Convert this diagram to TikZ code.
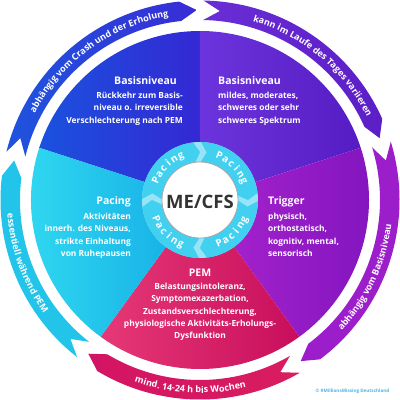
\documentclass[tikz,border=0pt]{standalone}
\usepackage{fontspec}
\setmainfont{Open Sans}
\usetikzlibrary{decorations.text}
\definecolor{cBlueA}{RGB}{26,82,222}
\definecolor{cBlueB}{RGB}{52,40,212}
\definecolor{cPurA}{RGB}{108,52,220}
\definecolor{cPurB}{RGB}{86,28,196}
\definecolor{cTrgA}{RGB}{170,36,206}
\definecolor{cTrgB}{RGB}{128,20,190}
\definecolor{cPemA}{RGB}{230,56,118}
\definecolor{cPemB}{RGB}{200,14,92}
\definecolor{cPacA}{RGB}{50,218,240}
\definecolor{cPacB}{RGB}{18,170,230}
\definecolor{cBandCyan}{RGB}{34,196,234}
\definecolor{cBandBlueA}{RGB}{30,84,222}
\definecolor{cBandBlueB}{RGB}{56,44,214}
\definecolor{cBandPurA}{RGB}{106,46,214}
\definecolor{cBandPurB}{RGB}{92,30,198}
\definecolor{cBandTrg}{RGB}{156,30,202}
\definecolor{cBandPemA}{RGB}{210,20,100}
\definecolor{cBandPemB}{RGB}{218,28,96}
\definecolor{cRing}{RGB}{66,208,240}
\definecolor{cRingLine}{RGB}{150,228,246}
\definecolor{cCore}{RGB}{51,51,51}
\definecolor{cCopy}{RGB}{80,176,228}
\def\bRo{199.5pt}
\def\bRm{190pt}
\def\bRi{180pt}
\def\bHd{5}
\def\rRo{58pt}
\def\rRm{48pt}
\def\rRi{38pt}
\def\rHd{7}
\newcommand{\bandarrow}[3]{%
  \path[#1] (#2:\bRo) arc[start angle=#2, end angle={#3+\bHd}, radius=\bRo]
    -- (#3:\bRm) -- ({#3+\bHd}:\bRi) arc[start angle={#3+\bHd}, end angle=#2, radius=\bRi]
    -- ({#2-\bHd}:\bRm) -- cycle;}
\newcommand{\ringarrow}[3]{%
  \path[#1] (#2:\rRo) arc[start angle=#2, end angle={#3+\rHd}, radius=\rRo]
    -- (#3:\rRm) -- ({#3+\rHd}:\rRi) arc[start angle={#3+\rHd}, end angle=#2, radius=\rRi]
    -- ({#2-\rHd}:\rRm) -- cycle;}
\tikzset{
  sectortitle/.style={text=white, font=\bfseries\fontsize{10.5}{12}\selectfont, inner sep=0pt},
  sectorbody/.style={text=white, font=\bfseries\fontsize{8.4}{12.3}\selectfont, inner sep=0pt},
  bandtext/.style={decorate, decoration={text along path, text align=center, text color=white,
     text={|\bfseries\fontsize{9}{9}\selectfont|#1}}},
  ringletter/.style={text=white, font=\bfseries\fontsize{10}{10}\selectfont, inner sep=0pt, anchor=base},
}
\begin{document}
\begin{tikzpicture}[x=1pt,y=1pt]
\useasboundingbox (-200,-200) rectangle (200,200);
% sectors
\path[left color=cBlueA, right color=cBlueB] (0,0) -- (90:169pt) arc[start angle=90, end angle=162, radius=169pt] -- cycle;
\path[left color=cPurA, right color=cPurB] (0,0) -- (18:169pt) arc[start angle=18, end angle=90, radius=169pt] -- cycle;
\path[left color=cTrgA, right color=cTrgB] (0,0) -- (-54:169pt) arc[start angle=-54, end angle=18, radius=169pt] -- cycle;
\path[left color=cPemA, right color=cPemB] (0,0) -- (-126:169pt) arc[start angle=-126, end angle=-54, radius=169pt] -- cycle;
\path[left color=cPacA, right color=cPacB] (0,0) -- (162:169pt) arc[start angle=162, end angle=234, radius=169pt] -- cycle;
% outer band arrows
\bandarrow{fill=cBandCyan}{232}{168}
\bandarrow{left color=cBandBlueA, right color=cBandBlueB}{166}{91}
\bandarrow{left color=cBandPurA, right color=cBandPurB}{89}{19}
\bandarrow{fill=cBandTrg}{17}{-58}
\bandarrow{left color=cBandPemA, right color=cBandPemB}{-60}{-126}
% band texts
\path[bandtext={abhängig vom Crash und der Erholung}] (160:186.5pt) arc[start angle=160, end angle=92, radius=186.5pt];
\path[bandtext={kann im Laufe des Tages variieren}] (84:186.5pt) arc[start angle=84, end angle=16, radius=186.5pt];
\path[bandtext={abhängig vom Basisniveau}] (-60:193pt) arc[start angle=-60, end angle=10, radius=193pt];
\path[bandtext={mind. 14-24 h bis Wochen}] (-128:193pt) arc[start angle=-128, end angle=-58, radius=193pt];
\path[bandtext={essentiell während PEM}] (165:193pt) arc[start angle=165, end angle=235, radius=193pt];
% inner ring
\fill[cRingLine] (0,0) circle[radius=\rRo];
\ringarrow{fill=cRing}{179}{90}
\ringarrow{fill=cRing}{89}{0}
\ringarrow{fill=cRing}{-1}{-90}
\ringarrow{fill=cRing}{-91}{-180}
\fill[white] (0,0) circle[radius=\rRi];
\draw[gray!70, line width=0.8pt] (0,0) circle[radius=\rRi];
\foreach \c/\m in {135/1, 45/1, -45/-1, 225/-1}{
  \foreach \ch [count=\i from 0] in {P,a,c,i,n,g}{
    \pgfmathsetmacro\ang{\c + \m*(2.5-\i)*8.5}
    \pgfmathsetmacro\rad{\m>0 ? 45 : 51}
    \pgfmathsetmacro\rot{\ang - \m*90}
    \node[ringletter, rotate=\rot] (pc\c-\i) at (\ang:\rad pt) {\ch};
  }
}
\node[text=cCore, font=\bfseries\fontsize{18.5}{20}\selectfont, inner sep=0pt] (core) at (0,-1.5) {ME/CFS};
% sector texts
\node[sectortitle, anchor=east] (t1) at (-23,119) {Basisniveau};
\node[sectorbody, anchor=north east, align=right] (b1) at (-17,108) {Rückkehr zum Basis-\\niveau o. irreversible\\Verschlechterung nach PEM};
\node[sectortitle, anchor=west] (t2) at (18,119) {Basisniveau};
\node[sectorbody, anchor=north west, align=left] (b2) at (18,108) {mildes, moderates,\\schweres oder sehr\\schweres Spektrum};
\node[sectortitle, anchor=west] (t3) at (68,-2) {Trigger};
\node[sectorbody, anchor=north west, align=left] (b3) at (68,-13) {physisch,\\orthostatisch,\\kognitiv, mental,\\sensorisch};
\node[sectortitle, anchor=east] (t5) at (-69,-2) {Pacing};
\node[sectorbody, anchor=north east, align=right] (b5) at (-69,-13) {Aktivitäten\\innerh. des Niveaus,\\strikte Einhaltung\\von Ruhepausen};
\node[sectortitle] (t4) at (0,-73) {PEM};
\node[sectorbody, anchor=north, align=center] (b4) at (0,-83) {Belastungsintoleranz,\\Symptomexazerbation,\\Zustandsverschlechterung,\\physiologische Aktivitäts-Erholungs-\\Dysfunktion};
\node[text=cCopy, font=\bfseries\fontsize{4.6}{5}\selectfont, inner sep=0pt] (copy) at (152.5,-191) {© \#MillionsMissing Deutschland};
\end{tikzpicture}
\end{document}
